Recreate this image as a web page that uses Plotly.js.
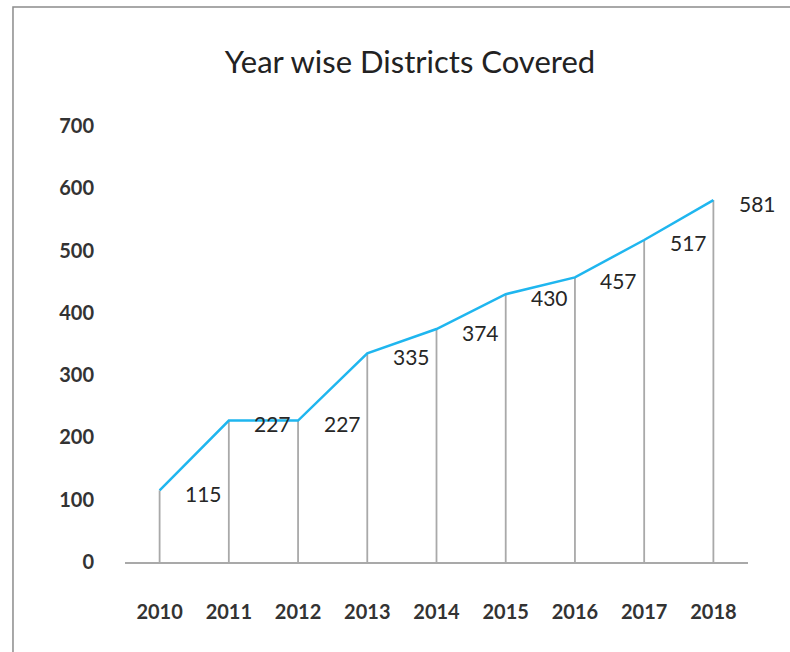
<!DOCTYPE html>
<html>
<head>
<meta charset="utf-8">
<script src="https://cdn.plot.ly/plotly-3.0.1.min.js"></script>
<style>html,body{margin:0;padding:0;background:#fff;}#chart{width:790px;height:652px;}</style>
</head>
<body>
<div id="chart"></div>
<script>
const years = ['2010','2011','2012','2013','2014','2015','2016','2017','2018'];
const districts = [115, 227, 227, 335, 374, 430, 457, 517, 581];
const yTicks = [0, 100, 200, 300, 400, 500, 600, 700];

const trace = {
  type: 'scatter',
  mode: 'lines',
  x: years,
  y: districts,
  line: {color: '#1fb6ef', width: 2.5},
  error_y: {
    type: 'data', symmetric: false,
    array: districts.map(() => 0),
    arrayminus: districts,
    color: '#a9a9a9', thickness: 1.8, width: 0
  },
  hoverinfo: 'x+y'
};

const annotations = districts.map((v, i) => ({
  x: i, y: v, xref: 'x', yref: 'y',
  text: String(v), showarrow: false,
  xanchor: 'center', yanchor: 'middle', xshift: 44, yshift: -3,
  font: {family: 'Lato', size: 21, color: '#262626'}
}));

const layout = {
  width: 790, height: 652,
  margin: {l: 125, r: 42, t: 126, b: 90},
  paper_bgcolor: '#fff', plot_bgcolor: '#fff',
  showlegend: false,
  title: {
    text: 'Year wise Districts Covered',
    font: {family: 'Lato', size: 31, color: '#222'},
    xref: 'container', x: 0.519, xanchor: 'center',
    yref: 'container', y: 0.905, yanchor: 'middle'
  },
  xaxis: {
    type: 'category', range: [-0.5, 8.5],
    showgrid: false, zeroline: false,
    showline: true, linecolor: '#a9a9a9', linewidth: 2,
    ticks: '', ticklabelstandoff: 31,
    tickfont: {family: 'Lato', size: 20, color: '#333', weight: 'bold'},
    fixedrange: true
  },
  yaxis: {
    range: [0, 700], tickvals: yTicks, ticktext: yTicks.map(String),
    showgrid: false, zeroline: false, showline: false,
    ticks: '', ticklabelstandoff: 30,
    tickfont: {family: 'Lato', size: 20, color: '#333', weight: 'bold'},
    fixedrange: true
  },
  annotations: annotations,
  shapes: [{
    type: 'rect', xref: 'paper', yref: 'paper',
    x0: -0.1798, x1: 1.3, y0: -0.4, y1: 1.273,
    line: {color: '#8c8c8c', width: 1.5}, fillcolor: 'rgba(0,0,0,0)', layer: 'below'
  }]
};

Plotly.newPlot('chart', [trace], layout, {displayModeBar: false, staticPlot: true});
</script>
</body>
</html>
